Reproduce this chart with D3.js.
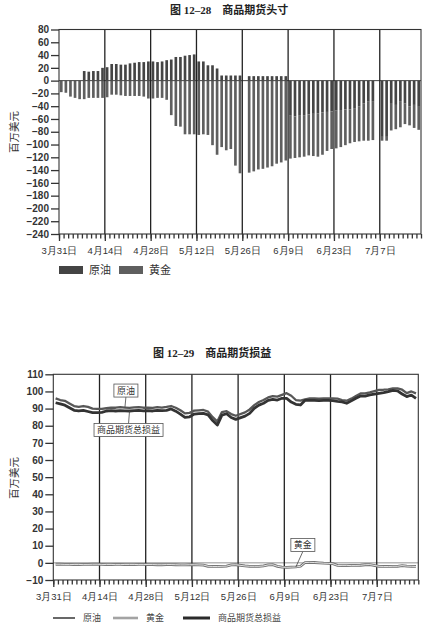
<!DOCTYPE html>
<html>
<head>
<meta charset="utf-8">
<script src="https://cdn.jsdelivr.net/npm/d3@7"></script>
<style>
  body { margin: 0; background: #fff; }
  svg { display: block; font-family: "Liberation Sans", Arial, "Noto Sans CJK SC", sans-serif; }
  .cjk { font-family: "Noto Sans CJK SC", sans-serif; }
  .ttl { font-family: "Liberation Serif", "Noto Sans CJK SC", serif; font-weight: bold; }
</style>
</head>
<body>
<div id="chart"></div>
<script>
'use strict';

// trading days 3/31 .. 7/17, one slot per weekday (null = holiday)
const slotCount = 79;
const dayLabels = ["3月31日", "4月14日", "4月28日", "5月12日", "5月26日", "6月9日", "6月23日", "7月7日"];
const labelSlots = [0, 10, 20, 30, 40, 50, 60, 70];

// 图 12-28 头寸 (百万美元)
const seriesNames = ["原油", "黄金"];
const oilPos = [
    0, 0, 0, 0, 0, 15, 14, 15, 15, 20,
    21, 26, 26, 25, 25, 27, 28, 29, 29, 30,
    30, 29, 30, 32, 33, 37, 37, 39, 40, 41,
    30, 30, 24, 24, 19, 8, 8, 8, 8, 8,
    null, 7, 7, 7, 7, 7, 7, 7, 7, 7,
    -55, -56, -55, -54, -53, -52, -51, -50, -49, -48,
    -47, -46, -45, -45, -44, -40, -36, -33, -32, null,
    -88, -88, -35, -38, -32, -36, -40, -38, -41
];
const goldPos = [
    -18, -19, -25, -27, -29, -29, -27, -27, -27, -27,
    -26, -22, -22, -23, -24, -24, -24, -24, -25, -28,
    -28, -27, -27, -30, -54, -71, -72, -84, -84, -84,
    -85, -84, -85, -101, -116, -104, -109, -107, -133, -145,
    null, -144, -142, -139, -138, -136, -134, -130, -128, -125,
    -67, -65, -65, -65, -64, -66, -68, -66, -61, -59,
    -59, -58, -56, -53, -52, -55, -58, -61, -61, null,
    -6, -6, -43, -38, -41, -32, -30, -36, -36
];
const posTicks = [80, 60, 40, 20, 0, -20, -40, -60, -80, -100, -120, -140, -160, -180, -200, -220, -240];

// 图 12-29 损益 (百万美元)
const oilPnl = [
    96, 95, 94.5, 93, 91.5, 91, 91.5, 91, 90, 89.8,
    89.8, 90.2, 90.6, 90.5, 90.8, 90.6, 90.4, 90.7, 90.8, 90.5,
    90.6, 90.4, 90.8, 90.6, 91, 91.5, 90.5, 89, 87.2, 87.5,
    88.8, 89, 89.2, 88.2, 85, 82.4, 88, 88.5, 86.8, 85.8,
    null, 87.8, 89.5, 92, 93.8, 95, 96.5, 97.3, 97, 98,
    99, 97.5, 95, 94.6, 95.4, 96, 96, 95.8, 96, 96,
    96, 95.8, 95, 94.6, 95.8, 97.3, 98.8, 98.9, 99.5, null,
    100.9, 101, 101.2, 101.8, 101.8, 101, 99, 100, 98.9
];
const goldPnl = [
    -0.8, -0.8, -0.9, -0.9, -1, -1, -0.9, -0.9, -0.8, -0.8,
    -0.9, -1, -1, -0.9, -0.9, -1, -1, -1, -0.9, -0.9,
    -1, -1, -1.1, -1.1, -1, -1, -1.1, -1.2, -1.2, -1.1,
    -1.1, -1.2, -1.3, -2, -2.1, -2.1, -2, -1.9, -1.2, -1.1,
    null, -1.8, -2, -2, -2, -1.8, -1.2, -1.1, -2, -2.5,
    -2.6, -2.5, -2.4, -2, 0.2, 0.3, 0.2, 0, -0.2, -0.3,
    -0.5, -1.5, -1.6, -1.6, -1.5, -1.5, -1.4, -1.1, -1, null,
    -2, -2.1, -2.1, -2, -2, -1.6, -1.9, -2, -2.1
];
const totalPnl = [
    93.4, 92.7, 92, 90.5, 89, 88.6, 89, 88.3, 87.6, 87.6,
    87.8, 88.6, 88.8, 88.6, 88.8, 88.7, 88.6, 88.8, 88.9, 88.7,
    88.8, 88.6, 88.9, 88.8, 89, 89.8, 88.5, 86.8, 84.9, 85.2,
    86.8, 87, 87.2, 86.3, 83, 80.4, 86.2, 87, 84.8, 83.7,
    null, 85.6, 87.2, 90.2, 92, 93.1, 94.8, 95.4, 95, 96,
    96, 93.8, 92.5, 92.1, 94.8, 94.8, 94.8, 94.6, 94.8, 94.8,
    94.6, 94.2, 93.9, 93.1, 94.5, 96, 97.3, 97.3, 98, null,
    98.9, 99.3, 99.9, 100.6, 100.3, 98.5, 97, 97.9, 96
];
const pnlTicks = [110, 100, 90, 80, 70, 60, 50, 40, 30, 20, 10, 0, -10];
const pnlNames = ["原油", "黄金", "商品期货总损益"];

const posColors = { "原油": "#444444", "黄金": "#5f5f5f" };

const svg = d3.select("#chart").append("svg")
    .attr("width", 431)
    .attr("height", 639);

// ---------------- 图 12-28 ----------------
const mTop = { left: 59, right: 421, top: 29.5, bottom: 234 };

const xTop = d3.scaleLinear().domain([0, slotCount]).range([mTop.left, mTop.right]);
const xBand = d3.scaleBand()
    .domain(d3.range(slotCount))
    .range([mTop.left, mTop.right])
    .paddingInner(0.42)
    .paddingOuter(0.21);
const yTop = d3.scaleLinear().domain([-240, 80]).range([mTop.bottom, mTop.top]);

svg.append("text")
    .attr("class", "ttl")
    .attr("x", 170).attr("y", 14)
    .attr("font-size", 11).attr("fill", "#222")
    .text("图 12–28　商品期货头寸");

const posRows = d3.range(slotCount)
    .filter(i => oilPos[i] !== null)
    .map(i => ({ slot: i, "原油": oilPos[i], "黄金": goldPos[i] }));

const stacked = d3.stack().keys(seriesNames).offset(d3.stackOffsetDiverging)(posRows);

svg.append("g")
    .selectAll("g")
    .data(stacked)
    .join("g")
    .attr("fill", d => posColors[d.key])
    .selectAll("rect")
    .data(d => d)
    .join("rect")
    .attr("x", d => xBand(d.data.slot))
    .attr("width", xBand.bandwidth())
    .attr("y", d => yTop(Math.max(d[0], d[1])))
    .attr("height", d => Math.abs(yTop(d[0]) - yTop(d[1])));

// zero line
svg.append("line")
    .attr("x1", mTop.left).attr("x2", mTop.right)
    .attr("y1", yTop(0)).attr("y2", yTop(0))
    .attr("stroke", "#444").attr("stroke-width", 1);

// vertical grid at every second Monday
svg.append("g")
    .selectAll("line")
    .data(labelSlots.slice(1))
    .join("line")
    .attr("x1", d => xTop(d)).attr("x2", d => xTop(d))
    .attr("y1", mTop.top).attr("y2", mTop.bottom)
    .attr("stroke", "#222").attr("stroke-width", 1.3);

svg.append("rect")
    .attr("x", mTop.left).attr("y", mTop.top)
    .attr("width", mTop.right - mTop.left).attr("height", mTop.bottom - mTop.top)
    .attr("fill", "none").attr("stroke", "#333").attr("stroke-width", 1.1);

function styleAxis(g, size) {
    g.select(".domain").remove();
    g.selectAll(".tick line").attr("stroke", "#333").attr("stroke-width", 1.3);
    g.selectAll(".tick text").attr("fill", "#333").attr("font-size", size);
}

svg.append("g")
    .attr("transform", `translate(${mTop.left},0)`)
    .call(d3.axisLeft(yTop).tickValues(posTicks).tickSize(8).tickPadding(2))
    .call(g => styleAxis(g, 10))
    .call(g => g.selectAll(".tick text").attr("font-weight", "bold"));

svg.append("g")
    .attr("transform", `translate(0,${mTop.bottom})`)
    .call(d3.axisBottom(xTop).tickValues(d3.range(slotCount + 1)).tickSize(4.5).tickFormat(""))
    .call(g => styleAxis(g, 9));

svg.append("g")
    .attr("transform", `translate(0,${mTop.bottom})`)
    .call(d3.axisBottom(xTop).tickValues(labelSlots).tickSize(7).tickPadding(6)
        .tickFormat((d, i) => dayLabels[i]))
    .call(g => styleAxis(g, 9.5));

svg.append("text")
    .attr("class", "cjk")
    .attr("transform", "translate(18,132) rotate(-90)")
    .attr("text-anchor", "middle")
    .attr("font-size", 10.5).attr("fill", "#333")
    .text("百万美元");

const legTop = svg.append("g").attr("transform", "translate(59,270)");
seriesNames.forEach((name, i) => {
    const g = legTop.append("g").attr("transform", `translate(${i * 60},0)`);
    g.append("rect").attr("x", 0).attr("y", -4).attr("width", 24).attr("height", 8)
        .attr("fill", posColors[name]);
    g.append("text").attr("class", "cjk").attr("x", 30).attr("y", 4)
        .attr("font-size", 11).attr("fill", "#333").text(name);
});

// ---------------- 图 12-29 ----------------
const mBot = { left: 53.3, right: 418.3, top: 374.3, bottom: 580 };

const xBot = d3.scaleLinear().domain([0, slotCount]).range([mBot.left, mBot.right]);
const yBot = d3.scaleLinear().domain([-10, 110]).range([mBot.bottom, mBot.top]);

svg.append("text")
    .attr("class", "ttl")
    .attr("x", 153).attr("y", 357)
    .attr("font-size", 11).attr("fill", "#222")
    .text("图 12–29　商品期货损益");

svg.append("line")
    .attr("x1", mBot.left).attr("x2", mBot.right)
    .attr("y1", yBot(0)).attr("y2", yBot(0))
    .attr("stroke", "#777").attr("stroke-width", 0.8);

svg.append("g")
    .selectAll("line")
    .data(labelSlots.slice(1))
    .join("line")
    .attr("x1", d => xBot(d)).attr("x2", d => xBot(d))
    .attr("y1", mBot.top).attr("y2", mBot.bottom)
    .attr("stroke", "#222").attr("stroke-width", 1.3);

const toPoints = arr => arr.map((v, i) => ({ slot: i, v: v })).filter(d => d.v !== null);
const pnlLine = d3.line()
    .x(d => xBot(d.slot + 0.5))
    .y(d => yBot(d.v));

// gold: cased line
svg.append("path").datum(toPoints(goldPnl)).attr("d", pnlLine)
    .attr("fill", "none").attr("stroke", "#727272").attr("stroke-width", 2.8);
svg.append("path").datum(toPoints(goldPnl)).attr("d", pnlLine)
    .attr("fill", "none").attr("stroke", "#fff").attr("stroke-width", 0.8);

svg.append("path").datum(toPoints(oilPnl)).attr("d", pnlLine)
    .attr("fill", "none").attr("stroke", "#575757").attr("stroke-width", 2.3)
    .attr("stroke-linejoin", "round");
svg.append("path").datum(toPoints(totalPnl)).attr("d", pnlLine)
    .attr("fill", "none").attr("stroke", "#333").attr("stroke-width", 2.8)
    .attr("stroke-linejoin", "round");

svg.append("rect")
    .attr("x", mBot.left).attr("y", mBot.top)
    .attr("width", mBot.right - mBot.left).attr("height", mBot.bottom - mBot.top)
    .attr("fill", "none").attr("stroke", "#333").attr("stroke-width", 1.1);

svg.append("g")
    .attr("transform", `translate(${mBot.left},0)`)
    .call(d3.axisLeft(yBot).tickValues(pnlTicks).tickSize(8).tickPadding(2))
    .call(g => styleAxis(g, 10))
    .call(g => g.selectAll(".tick text").attr("font-weight", "bold"));

svg.append("g")
    .attr("transform", `translate(0,${mBot.bottom})`)
    .call(d3.axisBottom(xBot).tickValues(d3.range(slotCount + 1)).tickSize(4.5).tickFormat(""))
    .call(g => styleAxis(g, 9));

svg.append("g")
    .attr("transform", `translate(0,${mBot.bottom})`)
    .call(d3.axisBottom(xBot).tickValues(labelSlots).tickSize(7).tickPadding(6)
        .tickFormat((d, i) => dayLabels[i]))
    .call(g => styleAxis(g, 9.5));

svg.append("text")
    .attr("class", "cjk")
    .attr("transform", "translate(18,478) rotate(-90)")
    .attr("text-anchor", "middle")
    .attr("font-size", 10.5).attr("fill", "#333")
    .text("百万美元");

// callouts: anchored on a data point, box offset from it
const callouts = [
    { text: "原油", series: oilPnl, slot: 15, dx: 1, dy: -17 },
    { text: "商品期货总损益", series: totalPnl, slot: 16, dx: -1, dy: 19 },
    { text: "黄金", series: goldPnl, slot: 52, dx: 7, dy: -22 }
];
callouts.forEach(c => {
    const px = xBot(c.slot + 0.5), py = yBot(c.series[c.slot]);
    const g = svg.append("g").attr("transform", `translate(${px + c.dx},${py + c.dy})`);
    const t = g.append("text").attr("class", "cjk")
        .attr("text-anchor", "middle").attr("dy", "0.36em")
        .attr("font-size", 9).attr("fill", "#333").text(c.text);
    const w = t.node().getComputedTextLength() + 6;
    const h = 13;
    const edge = c.dy < 0 ? h / 2 : -h / 2;
    g.insert("line", "text")
        .attr("x1", 0).attr("y1", edge)
        .attr("x2", -c.dx).attr("y2", -c.dy)
        .attr("stroke", "#444").attr("stroke-width", 0.8);
    g.insert("rect", "text")
        .attr("x", -w / 2).attr("y", -h / 2).attr("width", w).attr("height", h)
        .attr("fill", "#fff").attr("stroke", "#555").attr("stroke-width", 0.8);
});

// legend
const legBot = svg.append("g").attr("transform", "translate(53,618)");
const legItems = [
    { name: pnlNames[0], x: 0, w: 22, color: "#575757", sw: 1.8 },
    { name: pnlNames[1], x: 60, w: 25, color: "#727272", sw: 2.4, cased: true },
    { name: pnlNames[2], x: 130, w: 27, color: "#2a2a2a", sw: 3 }
];
legItems.forEach(d => {
    const g = legBot.append("g").attr("transform", `translate(${d.x},0)`);
    g.append("line").attr("x1", 0).attr("x2", d.w).attr("y1", 0).attr("y2", 0)
        .attr("stroke", d.color).attr("stroke-width", d.sw);
    if (d.cased) {
        g.append("line").attr("x1", 0).attr("x2", d.w).attr("y1", 0).attr("y2", 0)
            .attr("stroke", "#fff").attr("stroke-width", 0.7);
    }
    g.append("text").attr("class", "cjk").attr("x", d.w + 8).attr("y", 3.3)
        .attr("font-size", 9).attr("fill", "#444").text(d.name);
});
</script>
</body>
</html>
